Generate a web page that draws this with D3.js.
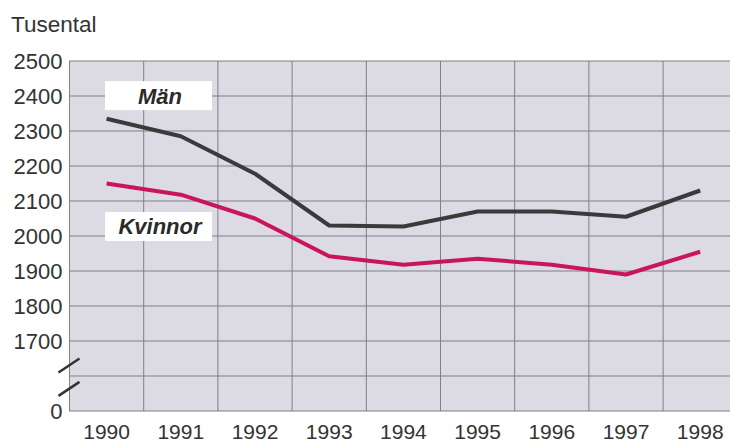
<!DOCTYPE html>
<html>
<head>
<meta charset="utf-8">
<script src="https://cdn.jsdelivr.net/npm/d3@7"></script>
<style>
  body { margin: 0; background: #ffffff; }
  text { font-family: "Liberation Sans", Arial, sans-serif; }
</style>
</head>
<body>
<div class="visHolder"></div>
<script>
const width = 730,
  height = 444;

const years = [1990, 1991, 1992, 1993, 1994, 1995, 1996, 1997, 1998];
const man = [2335, 2285, 2178, 2030, 2027, 2070, 2070, 2055, 2130];
const kvinnor = [2150, 2118, 2050, 1942, 1918, 1935, 1918, 1890, 1955];
const yTicks = [0, 1700, 1800, 1900, 2000, 2100, 2200, 2300, 2400, 2500];
const yGrid = [1600, 1700, 1800, 1900, 2000, 2100, 2200, 2300, 2400, 2500];

const plotLeft = 69.5,
  plotTop = 61,
  plotBottom = 411,
  colW = 74.2;

const svg = d3
  .select(".visHolder")
  .append("svg")
  .attr("width", width)
  .attr("height", height);

const xScale = d3
  .scaleBand()
  .domain(years)
  .range([plotLeft, plotLeft + colW * years.length]);

// broken axis: 0 at the bottom, then 1600..2500
const yScale = d3
  .scaleLinear()
  .domain([0, 1600, 2500])
  .range([plotBottom, plotBottom - 35, plotTop]);

// plot background
svg
  .append("rect")
  .attr("x", plotLeft)
  .attr("y", plotTop)
  .attr("width", width - plotLeft)
  .attr("height", plotBottom - plotTop)
  .style("fill", "#dcdae3");

// horizontal grid
svg
  .append("g")
  .attr("class", "grid")
  .selectAll("line")
  .data(yGrid.concat([0]))
  .enter()
  .append("line")
  .attr("x1", plotLeft)
  .attr("x2", width)
  .attr("y1", (d) => yScale(d))
  .attr("y2", (d) => yScale(d))
  .style("stroke", "#807e88")
  .style("stroke-width", 1);

// vertical grid at column edges
svg
  .append("g")
  .attr("class", "grid")
  .selectAll("line")
  .data(years)
  .enter()
  .append("line")
  .attr("x1", (d) => xScale(d))
  .attr("x2", (d) => xScale(d))
  .attr("y1", plotTop)
  .attr("y2", plotBottom)
  .style("stroke", "#807e88")
  .style("stroke-width", 1);

// y axis labels
const yAxis = d3.axisLeft(yScale).tickValues(yTicks).tickSize(0).tickPadding(7).tickFormat(d3.format("d"));
const gy = svg
  .append("g")
  .attr("id", "y-axis")
  .attr("transform", "translate(" + plotLeft + ",0)")
  .call(yAxis);
gy.select(".domain").remove();
gy.selectAll("text")
  .style("font-size", "22px")
  .style("fill", "#333")
  .attr("dy", "0.36em");

// x axis labels
const xAxis = d3.axisBottom(xScale).tickSize(0).tickPadding(13);
const gx = svg
  .append("g")
  .attr("id", "x-axis")
  .attr("transform", "translate(0," + plotBottom + ")")
  .call(xAxis);
gx.select(".domain").remove();
gx.selectAll("text").style("font-size", "21px").style("fill", "#333");

// axis break marks
const breaks = [1650, 1330];
svg
  .append("g")
  .selectAll("line")
  .data(breaks)
  .enter()
  .append("line")
  .attr("x1", plotLeft - 11)
  .attr("x2", plotLeft + 10)
  .attr("y1", (d) => yScale(d) + 14)
  .attr("y2", (d) => yScale(d) + 0)
  .style("stroke", "#333")
  .style("stroke-width", 2.5);

// lines
const line = d3
  .line()
  .x((d, i) => xScale(years[i]) + xScale.bandwidth() / 2)
  .y((d) => yScale(d));

svg
  .append("path")
  .datum(kvinnor)
  .attr("d", line)
  .style("fill", "none")
  .style("stroke", "#c8155e")
  .style("stroke-width", 4)
  .style("stroke-linejoin", "round");

svg
  .append("path")
  .datum(man)
  .attr("d", line)
  .style("fill", "none")
  .style("stroke", "#3a3a3a")
  .style("stroke-width", 4)
  .style("stroke-linejoin", "round");

// series labels
const labels = [
  ["Män", 2401],
  ["Kvinnor", 2027],
];
const lab = svg.append("g").selectAll("g").data(labels).enter().append("g");
lab
  .append("rect")
  .attr("x", 105)
  .attr("y", (d) => yScale(d[1]) - 14.5)
  .attr("width", 107)
  .attr("height", 29)
  .style("fill", "#ffffff");
lab
  .append("text")
  .attr("x", 160)
  .attr("y", (d) => yScale(d[1]))
  .attr("dy", "0.36em")
  .attr("text-anchor", "middle")
  .style("font-size", "22px")
  .style("font-weight", "bold")
  .style("font-style", "italic")
  .style("fill", "#2a2a2a")
  .text((d) => d[0]);

svg
  .append("text")
  .attr("x", 11)
  .attr("y", 32)
  .style("font-size", "22.5px")
  .style("fill", "#333")
  .text("Tusental");
</script>
</body>
</html>
